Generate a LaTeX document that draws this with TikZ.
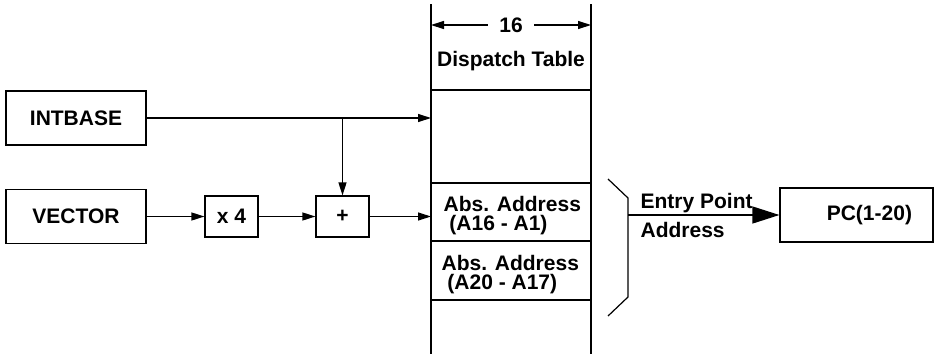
\documentclass[tikz,border=0pt]{standalone}
\usepackage{fontspec}
\setmainfont{Liberation Sans}
\usetikzlibrary{positioning}
\usetikzlibrary{arrows.meta}
\usetikzlibrary{calc}

\begin{document}
\begin{tikzpicture}[x=1pt, y=-1pt, line width=1.2pt,
  >={Triangle[length=13pt,width=8pt]},
  every node/.style={font=\fontsize{21}{18.5}\selectfont\bfseries},
  regbox/.style={draw, minimum width=140pt, minimum height=54pt, inner sep=0pt},
  opbox/.style={draw, minimum width=53pt, minimum height=41pt, inner sep=0pt}]
	 \useasboundingbox (0,0) rectangle (935,354);
 	 % Set the edges of the dispatch table
 	 \def\tabL{431}
 	 \def\tabR{591}

 	 % Registers and the address calculation
 	 \node[regbox] (intbase) at (76,118) {INTBASE};
 	 \node[regbox] (vector) at (76,216.5) {VECTOR};
 	 \node[opbox] (times) at (231.5,216.5) {x 4};
 	 \node[opbox] (plus) at (342.5,216.5) {+};

 	 % Dispatch table
 	 \coordinate (tl) at (\tabL,4);
 	 \coordinate (bl) at (\tabL,354);
 	 \coordinate (tr) at (\tabR,4);
 	 \coordinate (br) at (\tabR,354);
 	 \draw (tl) -- (bl);
 	 \draw (tr) -- (br);
 	 \foreach \y in {90,183,241,300} {
 	 	\draw (\tabL,\y) -- (\tabR,\y);
 	 }
 	 \node[inner xsep=11pt] (width) at (511,25) {16};
 	 \draw[->] (width.west) -- (width -| tl);
 	 \draw[->] (width.east) -- (width -| tr);
 	 \node (title) at (511,61) {Dispatch Table};
 	 % base is the last line here
 	 \node[align=left, anchor=base west] (absLo) at (439.7,230) {Abs. Address\\\ (A16 - A1)};
 	 \node[align=left, anchor=base west] (absHi) at (437.7,289) {Abs. Address\\\ (A20 - A17)};

 	 % Connections
 	 \draw[->] (intbase) -- (intbase -| tl);
 	 \draw[->] (intbase -| plus) -- (plus);
 	 \draw[->] (vector) -- (times);
 	 \draw[->] (times) -- (plus);
 	 \draw[->] (plus) -- (plus -| tl);

 	 % Entry point bracket and the PC
 	 \node[draw, minimum height=54pt, inner xsep=21pt, text width=111pt, align=right] (pc) at (856.5,215) {PC(1-20)};
 	 \draw (608,179) -- (628,198) coordinate (brk) -- (628,297) -- (608,316);
 	 \draw[-{Triangle[length=27pt,width=17pt]}] (brk |- pc) -- (pc);
 	 \node[anchor=base west] (entry) at (636.7,208) {Entry Point};
 	 \node[anchor=base west] (addr) at (636.7,237) {Address};
\end{tikzpicture}
\end{document}
